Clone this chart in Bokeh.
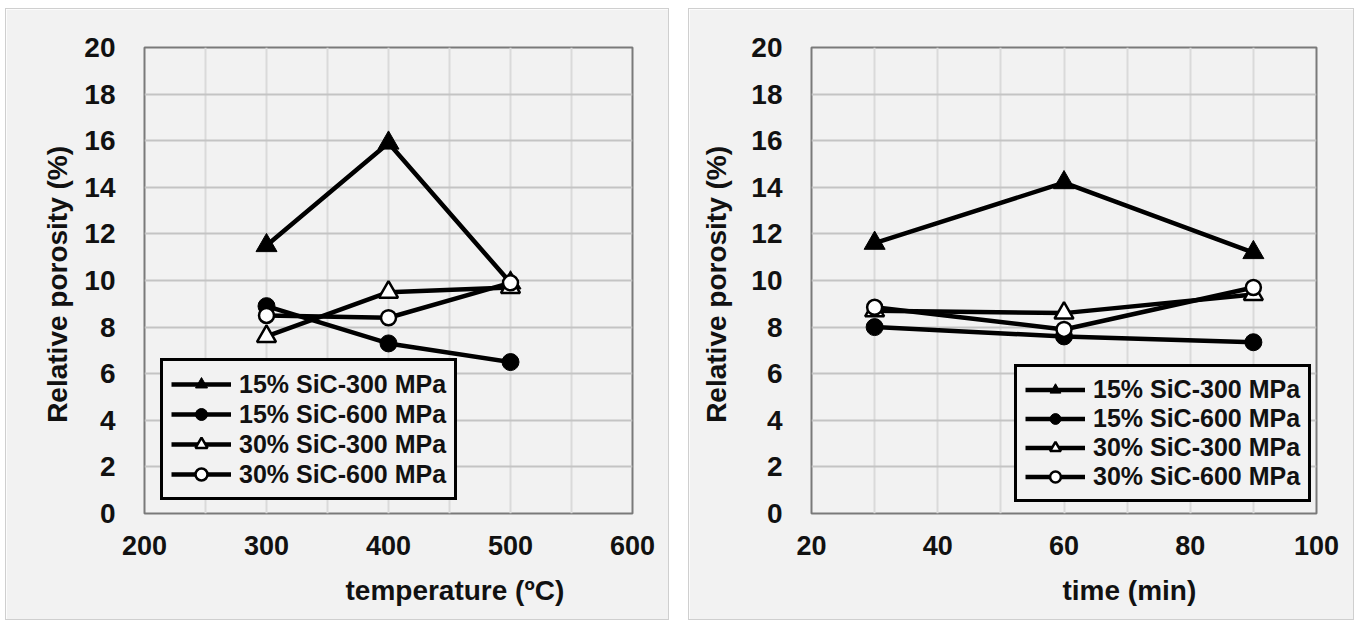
from bokeh.plotting import figure
from bokeh.models import SingleIntervalTicker, Legend, LegendItem, Title, Range1d
from bokeh.layouts import row
from bokeh.embed import file_html
from bokeh.resources import INLINE

# ---- data ----
temperature = [300, 400, 500]
temp_sic15_300 = [11.5, 15.9, 9.9]
temp_sic15_600 = [8.9, 7.3, 6.5]
temp_sic30_300 = [7.6, 9.5, 9.7]
temp_sic30_600 = [8.5, 8.4, 9.9]

time_min = [30, 60, 90]
time_sic15_300 = [11.6, 14.2, 11.2]
time_sic15_600 = [8.0, 7.6, 7.35]
time_sic30_300 = [8.7, 8.6, 9.4]
time_sic30_600 = [8.85, 7.9, 9.7]

series_labels = ["15% SiC-300 MPa", "15% SiC-600 MPa", "30% SiC-300 MPa", "30% SiC-600 MPa"]
y_label = "Relative porosity  (%)"

FONT = "Liberation Sans"
BG = "#f2f2f2"

styles_spec = [
    ("triangle", "black", 21),
    ("circle", "black", 17),
    ("triangle", "white", 19),
    ("circle", "white", 15),
]


def make_plot(xs, ys_list, xr, x_grid, x_label_step, xlabel, width, mbl, mbr, ylab_standoff,
              legend_loc, xlabel_offset, row_h, margin):
    p = figure(width=width, height=612, output_backend="svg", toolbar_location=None,
               x_range=Range1d(*xr), y_range=Range1d(0, 20),
               min_border_left=mbl, min_border_right=mbr, min_border_top=38, min_border_bottom=108)
    p.margin = margin
    p.background_fill_color = BG
    p.border_fill_color = BG
    p.outline_line_color = "#7a7a7a"
    p.outline_line_width = 2
    p.styles = {"border": "1px solid #cfcfcf"}

    p.xaxis.ticker = SingleIntervalTicker(interval=x_label_step)
    p.xgrid.ticker = SingleIntervalTicker(interval=x_grid)
    p.yaxis.ticker = SingleIntervalTicker(interval=2)
    p.xgrid.grid_line_color = "#dadada"
    p.xgrid.grid_line_width = 2
    p.ygrid.grid_line_color = "#c4c4c4"
    p.ygrid.grid_line_width = 2

    for ax in (p.xaxis[0], p.yaxis[0]):
        ax.axis_line_color = None
        ax.major_tick_line_color = None
        ax.minor_tick_line_color = None
        ax.major_tick_out = 0
        ax.major_tick_in = 0
        ax.major_label_text_font = FONT
        ax.major_label_text_font_style = "bold"
        ax.major_label_text_color = "#111111"
    p.yaxis.major_label_text_font_size = "28px"
    p.xaxis.major_label_text_font_size = "27px"
    p.yaxis.major_label_standoff = 25
    p.xaxis.major_label_standoff = 18

    p.yaxis.axis_label = y_label
    p.yaxis.axis_label_text_font = FONT
    p.yaxis.axis_label_text_font_style = "bold"
    p.yaxis.axis_label_text_font_size = "28px"
    p.yaxis.axis_label_text_color = "#111111"
    p.yaxis.axis_label_standoff = ylab_standoff

    t = Title(text=xlabel, align="left", offset=xlabel_offset, text_font=FONT,
              text_font_style="bold", text_font_size="28px", text_color="#111111",
              standoff=30)
    p.add_layout(t, "below")

    items = []
    for lab, ys, (mk, fill, sz) in zip(series_labels, ys_list, styles_spec):
        lr = p.line(xs, ys, line_color="black", line_width=4.5)
        sr = p.scatter(xs, ys, marker=mk, size=sz, fill_color=fill, line_color="black",
                       line_width=2.5 if fill == "white" else 1)
        items.append(LegendItem(label=lab, renderers=[lr, sr]))

    leg = Legend(items=items, location=legend_loc, orientation="vertical",
                 label_text_font=FONT, label_text_font_style="bold",
                 label_text_font_size="25px", label_text_color="#111111",
                 glyph_width=60, glyph_height=row_h, label_height=row_h,
                 label_standoff=8, spacing=0, padding=8, margin=0,
                 border_line_color="black", border_line_width=3, border_line_alpha=1.0,
                 background_fill_color=BG, background_fill_alpha=1.0)
    p.add_layout(leg, "center")
    return p


p1 = make_plot(temperature, [temp_sic15_300, temp_sic15_600, temp_sic30_300, temp_sic30_600],
               (200, 600), 50, 100, "temperature (ºC)", 664, 138, 38, 8, (16, 13), 201, 30,
               (8, 0, 0, 5))
p2 = make_plot(time_min, [time_sic15_300, time_sic15_600, time_sic30_300, time_sic30_600],
               (20, 100), 10, 20, "time (min)", 666, 122, 39, 16, (203, 11), 251, 27,
               (8, 0, 0, 19))

layout = row(p1, p2, spacing=0)
open("out.html", "w").write(file_html(layout, INLINE))
